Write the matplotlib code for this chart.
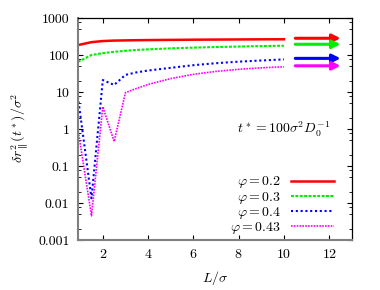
import numpy as np
import matplotlib
matplotlib.use("Agg")
import matplotlib.pyplot as plt
from matplotlib.ticker import FixedLocator, FixedFormatter, LogLocator, NullFormatter

plt.rcParams["font.family"] = "serif"
plt.rcParams["font.serif"] = ["cmr10"]
plt.rcParams["mathtext.fontset"] = "cm"
plt.rcParams["axes.formatter.use_mathtext"] = True
plt.rcParams["font.size"] = 10

# box length L/sigma
L = [0.9, 1.5, 2.0, 2.5, 3.0, 3.5, 4.0, 5.0, 6.0, 7.0, 8.0, 9.0, 10.0]

# MSD parallel at t*, one series per packing fraction
msd_02 = [185, 222, 238, 245, 248, 251, 253, 256, 259, 261, 263, 265, 266]
msd_03 = [65, 100, 112, 122, 130, 137, 142, 151, 158, 164, 169, 174, 178]
msd_04 = [7.4, 0.0134, 21, 15.5, 29, 34, 38, 45, 53, 60, 66, 71, 76]
msd_043 = [1.0, 0.0045, 4.0, 0.46, 9.6, 12.5, 16, 23, 30, 36, 41, 45, 48]

# bulk limits (arrows at the right)
bulk_vals = [283, 195, 81, 51]
arrow_x = [10.5, 12.5]

labels = [r"$\varphi = 0.2$", r"$\varphi = 0.3$", r"$\varphi = 0.4$", r"$\varphi = 0.43$"]
colors = ["#ff0000", "#00ee00", "#0000ff", "#ff00ff"]

ytick_vals = [0.001, 0.01, 0.1, 1, 10, 100, 1000]
ytick_labels = ["0.001", "0.01", "0.1", "1", "10", "100", "1000"]
xtick_vals = [2, 4, 6, 8, 10, 12]

fig = plt.figure(figsize=(3.8, 2.9), dpi=100)
ax = fig.add_axes([0.205, 0.1724, 0.721, 0.7656])

ax.plot(L, msd_02, color=colors[0], lw=1.8, ls="-", label=labels[0])
ax.plot(L, msd_03, color=colors[1], lw=1.5, dashes=(1.4, 0.7), label=labels[1])
ax.plot(L, msd_04, color=colors[2], lw=1.5, dashes=(1.0, 1.3), label=labels[2])
ax.plot(L, msd_043, color=colors[3], lw=1.2, dashes=(1.0, 0.7), label=labels[3])

for v, c in zip(bulk_vals, colors):
    ax.annotate("", xy=(arrow_x[1], v), xytext=(arrow_x[0], v),
                arrowprops=dict(arrowstyle="-|>", color=c, lw=2.2,
                                mutation_scale=12, shrinkA=0, shrinkB=0))

ax.set_yscale("log")
ax.set_xlim(0.9, 13)
ax.set_ylim(0.001, 1000)

ax.yaxis.set_major_locator(FixedLocator(ytick_vals))
ax.yaxis.set_major_formatter(FixedFormatter(ytick_labels))
ax.yaxis.set_minor_locator(LogLocator(base=10, subs=(2, 5, 8)))
ax.yaxis.set_minor_formatter(NullFormatter())
ax.set_xticks(xtick_vals)

ax.tick_params(which="both", direction="in", top=True, right=True)
ax.tick_params(which="major", length=3.5, width=0.8, pad=6)
ax.tick_params(which="minor", length=2, width=0.6)

for s in ["left", "bottom"]:
    ax.spines[s].set_color("#808080")
    ax.spines[s].set_linewidth(1.5)
for s in ["top", "right"]:
    ax.spines[s].set_linewidth(0.9)

ax.set_xlabel(r"$L/\sigma$")
ax.set_ylabel(r"$\delta r_{\parallel}^2(t^*)/\sigma^2$")
ax.xaxis.set_label_coords(0.5, -0.13)
ax.yaxis.set_label_coords(-0.175, 0.505)

ax.text(0.752, 0.5, r"$t^* = 100\sigma^2 D_0^{-1}$", transform=ax.transAxes,
        ha="center", va="center")

ax.legend(loc="lower right", bbox_to_anchor=(0.934, 0.02), frameon=False,
          markerfirst=False, handlelength=3.1, handletextpad=0.7,
          labelspacing=-0.07, borderpad=0, borderaxespad=0)

fig.savefig("out.png", dpi=100)
